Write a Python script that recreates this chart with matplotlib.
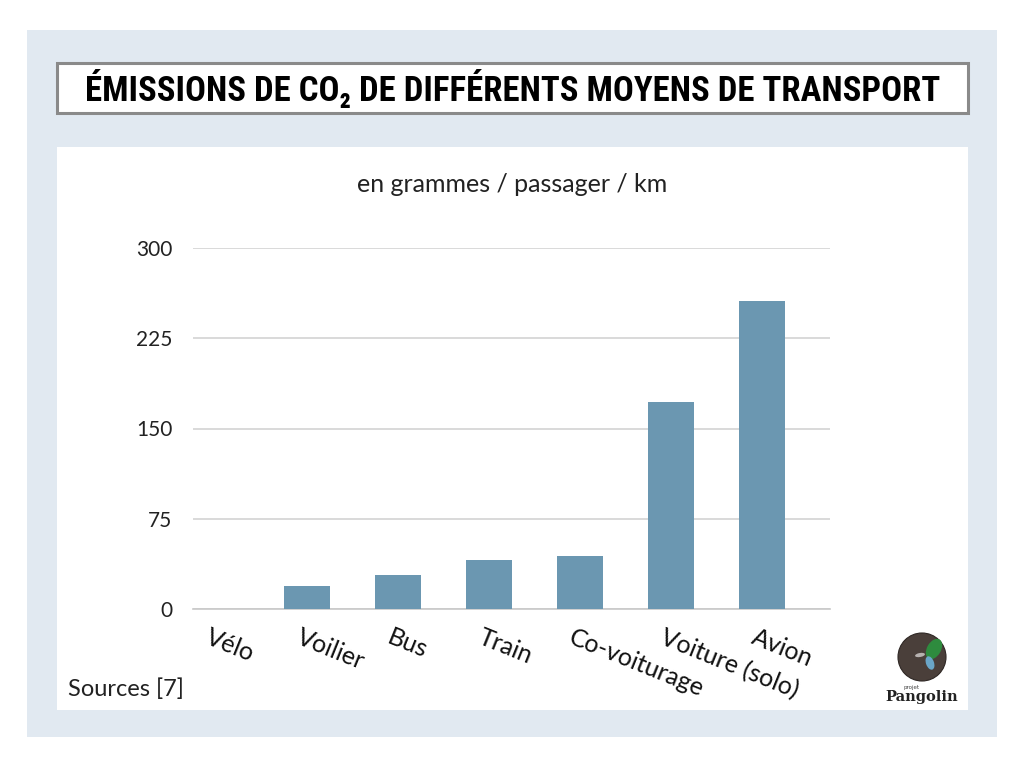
import numpy as np
import matplotlib
matplotlib.use("Agg")
from matplotlib import pyplot as plt
from matplotlib import font_manager
from matplotlib.patches import Rectangle, Circle, Ellipse
from matplotlib.transforms import ScaledTranslation

# data
categories = ["Vélo", "Voilier", "Bus", "Train", "Co-voiturage", "Voiture (solo)", "Avion"]
emissions = [0, 19, 28, 41, 44, 172, 256]
yticks = [0, 75, 150, 225, 300]

W, H = 1024, 768
fig = plt.figure(figsize=(W / 100, H / 100), dpi=100)
fig.patch.set_facecolor("white")


def frect(x0, y0, x1, y1, **kw):
    # rectangle in pixel coords (top-left origin)
    r = Rectangle((x0 / W, 1 - y1 / H), (x1 - x0) / W, (y1 - y0) / H,
                  transform=fig.transFigure, **kw)
    fig.patches.append(r)
    return r


frect(27, 30, 997, 737, facecolor="#e1e9f1", edgecolor="none", zorder=0)
frect(57, 147, 968, 710, facecolor="white", edgecolor="none", zorder=1)
frect(57, 63, 968, 113, facecolor="white", edgecolor="#8a8a8a", linewidth=2.2, zorder=1)

# pick a narrow font for the title if there is one
names = {f.name for f in font_manager.fontManager.ttflist}
title_font = "DejaVu Sans"
for cand in ["Liberation Sans Narrow", "Roboto Condensed", "DejaVu Sans Condensed",
             "Open Sans Condensed", "Noto Sans Display", "Roboto"]:
    if cand in names:
        title_font = cand
        break

title = fig.text(512.5 / W, 1 - 89 / H, "ÉMISSIONS DE CO₂ DE DIFFÉRENTS MOYENS DE TRANSPORT",
                 ha="center", va="center", fontsize=25, fontweight="bold",
                 family=[title_font, "DejaVu Sans"], zorder=3)
# shrink until it fits inside the box
renderer = fig.canvas.get_renderer()
fs = 25
while title.get_window_extent(renderer).width > 885 and fs > 8:
    fs -= 0.5
    title.set_fontsize(fs)

fig.text(512 / W, 1 - 184 / H, "en grammes / passager / km", ha="center", va="center",
         fontsize=18, family="Lato", color="#222222", zorder=3)

fig.text(68 / W, 1 - 689 / H, "Sources [7]", ha="left", va="center",
         fontsize=17, family="Lato", color="#222222", zorder=3)

ax = fig.add_axes([193 / W, 1 - 609 / H, 637 / W, 361 / H], zorder=2)
ax.set_facecolor("none")
x = np.arange(len(categories))
ax.bar(x, emissions, width=0.5, color="#6b97b1", zorder=3)
ax.set_xlim(-0.25, 6.75)
ax.set_ylim(0, 300)
ax.set_yticks(yticks)
ax.set_yticklabels([str(v) for v in yticks], fontsize=15, family="Lato", color="#222222")
ax.yaxis.grid(True, color="#d3d3d3", linewidth=1.2, zorder=0)
for s in ["top", "right", "left"]:
    ax.spines[s].set_visible(False)
ax.spines["bottom"].set_color("#c8c8c8")
ax.spines["bottom"].set_linewidth(1.2)
ax.tick_params(axis="y", length=0, pad=15)
ax.tick_params(axis="x", length=0, pad=12)
ax.set_xticks(x)
ax.set_xticklabels(categories, fontsize=18, family="Lato", color="#111111",
                   rotation=-22, ha="left", va="top", rotation_mode="anchor")
for lab in ax.get_xticklabels():
    lab.set_transform(lab.get_transform() + ScaledTranslation(-5 / 100, 0, fig.dpi_scale_trans))

# small logo
lax = fig.add_axes([(922 - 30) / W, 1 - (657 + 30) / H, 60 / W, 60 / H], zorder=4)
lax.set_xlim(-30, 30)
lax.set_ylim(-30, 30)
lax.set_aspect("equal")
lax.axis("off")
lax.add_patch(Circle((0, 0), 24, facecolor="#4a3f3a", edgecolor="#2e2724", linewidth=0.8))
lax.add_patch(Ellipse((12, 8), 14, 22, angle=-30, facecolor="#2e8b3e", edgecolor="none"))
lax.add_patch(Ellipse((8, -6), 8, 14, angle=20, facecolor="#6aa6c8", edgecolor="none"))
lax.add_patch(Ellipse((-2, 2), 10, 4, angle=10, facecolor="#ffffff", edgecolor="none", alpha=0.6))
fig.text(922 / W, 1 - 697 / H, "Pangolin", ha="center", va="center", fontsize=10.5,
         fontweight="bold", family="DejaVu Serif", color="#222222", zorder=5)
fig.text(912 / W, 1 - 687 / H, "projet", ha="center", va="center", fontsize=4,
         family="DejaVu Sans", color="#444444", zorder=5)

fig.savefig("out.png", dpi=100)
